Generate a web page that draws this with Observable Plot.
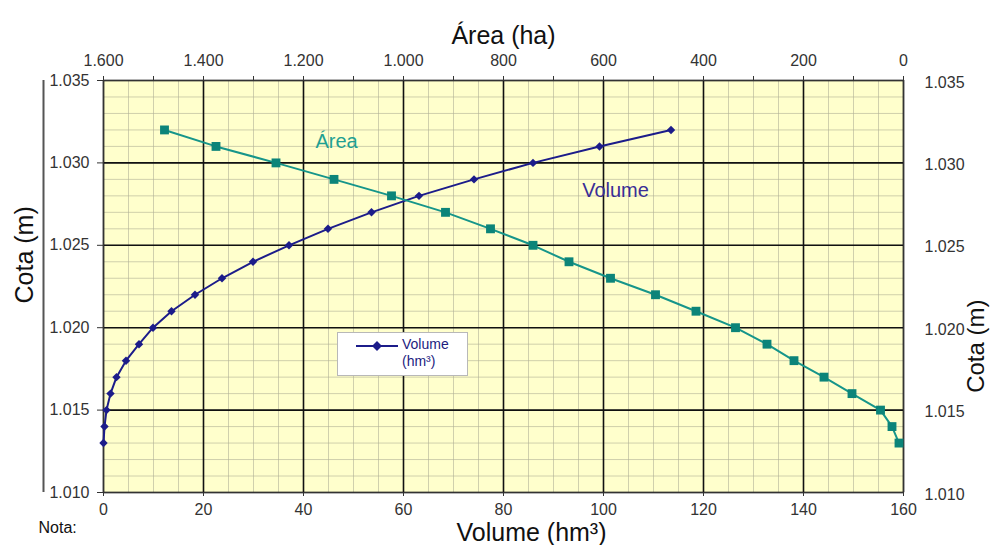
<!DOCTYPE html>
<html>
<head>
<meta charset="utf-8">
<script src="https://cdn.jsdelivr.net/npm/d3@7"></script>
<script src="https://cdn.jsdelivr.net/npm/@observablehq/plot@0.6"></script>
<style>
  body { margin: 0; background: #fff; font-family: "Liberation Sans", Arial, sans-serif; }
  #chart { position: relative; width: 990px; height: 545px; }
  #chart > svg { position: absolute; left: 0; top: 0; }
  #legend {
    position: absolute; left: 337px; top: 332px; width: 131px; height: 44px;
    background: #fff; border: 1px solid #b8b8b8; box-sizing: border-box;
    font-size: 14px; color: #1c1c80; line-height: 17px;
  }
  #legend svg { position: absolute; left: 18px; top: 6px; }
  #legend .txt { position: absolute; left: 64px; top: 3px; }
</style>
</head>
<body>
<div id="chart"></div>
<script>
// Reservoir elevation–area–volume curve
const cota = [1013, 1014, 1015, 1016, 1017, 1018, 1019, 1020, 1021, 1022,
              1023, 1024, 1025, 1026, 1027, 1028, 1029, 1030, 1031, 1032];   // m
const volume = [0.0, 0.2, 0.6, 1.4, 2.6, 4.5, 7.1, 9.9, 13.6, 18.3,
                23.7, 29.9, 37.1, 44.9, 53.6, 63.1, 74.1, 85.9, 99.2, 113.5];  // hm³
const area = [9, 23, 46, 103, 159, 219, 273, 336, 415, 496,
              586, 669, 741, 826, 916, 1024, 1139, 1255, 1375, 1478];        // ha

const volumeTicks = d3.range(0, 161, 20);
const areaTicks = d3.range(0, 1601, 200);
const cotaTicks = d3.range(1010, 1036, 5);

const rows = cota.map((c, i) => ({cota: c, volume: volume[i], area: area[i]}));

// Portuguese number format: "1.600", "1.035"
const fmt = d3.formatLocale({decimal: ",", thousands: ".", grouping: [3], currency: ["", ""]}).format(",");

const W = 990, H = 545;
const margins = {marginTop: 80, marginRight: 87, marginBottom: 53, marginLeft: 103};
const font = "Liberation Sans, Arial, sans-serif";
const navy = "#1c1c8a", teal = "#16958a";

// Volume layer: background, grid, bottom/left axes, titles
const volumePlot = Plot.plot({
  width: W, height: H, ...margins,
  x: {domain: [0, 160]},
  y: {domain: [1010, 1035]},
  style: {fontFamily: font, background: "#fff", color: "#333"},
  marks: [
    Plot.frame({fill: "#ffffcc", stroke: null}),
    Plot.gridX(d3.range(0, 161, 5), {stroke: "#b0b096", strokeOpacity: 0.6, strokeWidth: 1}),
    Plot.gridY(d3.range(1010, 1036, 1), {stroke: "#b0b096", strokeOpacity: 0.6, strokeWidth: 1}),
    Plot.gridX(volumeTicks, {stroke: "#111", strokeOpacity: 1, strokeWidth: 1.6}),
    Plot.gridY(cotaTicks, {stroke: "#111", strokeOpacity: 1, strokeWidth: 1.6}),
    Plot.frame({stroke: "#333", strokeWidth: 1.2}),
    // left spine standing off the elevation labels
    Plot.ruleX([0], {y1: 1010, y2: 1035, dx: -60, stroke: "#555", strokeWidth: 2}),
    Plot.axisX(volumeTicks, {anchor: "bottom", tickSize: 4, tickPadding: 7, fontSize: 16, label: null, tickFormat: fmt}),
    Plot.axisY(cotaTicks, {anchor: "left", tickSize: 6, tickPadding: 8, fontSize: 16, label: null, tickFormat: fmt}),
    Plot.line(rows, {x: "volume", y: "cota", stroke: navy, strokeWidth: 2}),
    Plot.dot(rows, {x: "volume", y: "cota", symbol: "diamond2", r: 3.8, fill: navy, stroke: null}),
    Plot.text(["Volume (hm³)"], {frameAnchor: "bottom", lineAnchor: "middle", dx: 28, dy: 40, fontSize: 25, fill: "#111"}),
    Plot.text(["Área (ha)"], {frameAnchor: "top", lineAnchor: "middle", dy: -45, fontSize: 25, fill: "#111"}),
    Plot.text(["Cota (m)"], {frameAnchor: "left", lineAnchor: "middle", rotate: -90, dx: -79, dy: 17, fontSize: 25, fill: "#111"}),
    Plot.text(["Cota (m)"], {frameAnchor: "right", lineAnchor: "middle", rotate: -90, dx: 73, dy: 13, fontSize: 24, fill: "#111"}),
    Plot.text(["Nota:"], {frameAnchor: "bottom-left", textAnchor: "start", lineAnchor: "middle", dx: -65, dy: 35, fontSize: 16, fill: "#111"}),
    Plot.text(["Área"], {frameAnchor: "top-left", textAnchor: "middle", lineAnchor: "middle", dx: 233, dy: 61, fontSize: 20, fill: "#1fa092"}),
    Plot.text(["Volume"], {frameAnchor: "top-left", textAnchor: "middle", lineAnchor: "middle", dx: 512, dy: 110, fontSize: 20, fill: "#3a2e96"})
  ]
});

// Area layer: reversed top axis (ha) and right elevation axis
const areaPlot = Plot.plot({
  width: W, height: H, ...margins,
  x: {domain: [1600, 0]},
  y: {domain: [1010, 1035]},
  style: {fontFamily: font, background: "transparent", color: "#333"},
  marks: [
    Plot.axisX(d3.range(100, 1600, 200), {anchor: "top", tickSize: 5, tickFormat: () => "", label: null}),
    Plot.axisX(areaTicks, {anchor: "top", tickSize: 5, tickPadding: 10, fontSize: 16, label: null, tickFormat: fmt}),
    Plot.axisY(cotaTicks, {anchor: "right", tickSize: 0, tickPadding: 21, fontSize: 16, label: null, tickFormat: fmt, dy: 2}),
    Plot.line(rows, {x: "area", y: "cota", stroke: teal, strokeWidth: 2}),
    Plot.dot(rows, {x: "area", y: "cota", symbol: "square", r: 5, fill: "#0c8479", stroke: null})
  ]
});

const chart = document.getElementById("chart");
chart.append(volumePlot, areaPlot);

// Series key
const legend = document.createElement("div");
legend.id = "legend";
legend.innerHTML =
  `<svg width="44" height="14" viewBox="0 0 44 14">
     <line x1="0" y1="7" x2="42" y2="7" stroke="${navy}" stroke-width="2"/>
     <path d="M21 2 L26 7 L21 12 L16 7 Z" fill="${navy}"/>
   </svg>
   <div class="txt">Volume<br>(hm³)</div>`;
chart.append(legend);
</script>
</body>
</html>
